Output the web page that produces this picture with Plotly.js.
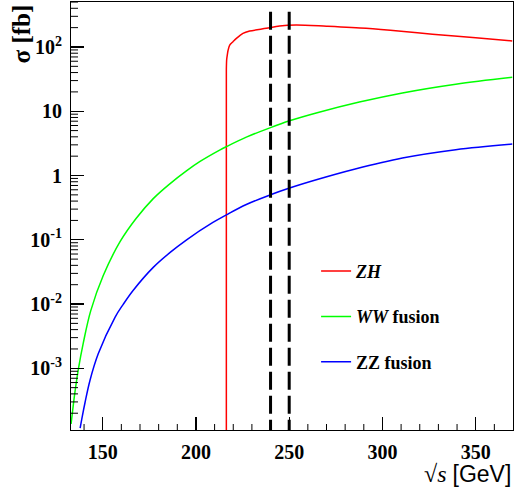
<!DOCTYPE html>
<html>
<head>
<meta charset="utf-8">
<script src="https://cdn.plot.ly/plotly-3.0.1.min.js"></script>
<style>html,body{margin:0;padding:0;background:#fff;}#chart{width:514px;height:489px;}</style>
</head>
<body>
<div id="chart"></div>
<script>
// ---- data ----
const zhEnergy = [216.3, 216.3, 216.5, 216.9, 217.2, 218.1, 219.9, 221.7, 225.2, 228.8, 237.7, 244.8, 253.7, 270, 291.2, 310, 326.8, 350, 369.6];
const zhXsec   = [1e-4, 45, 65, 78, 88, 107, 121, 136, 163, 177, 195, 212, 220, 210, 195, 176, 158, 139, 124];

const wwEnergy = [133.05, 134.0, 135.2, 137.0, 139.6, 143.6, 150.3, 159.3, 168.0, 177.1, 186.0, 194.9, 202.0, 212.7, 216.3, 227.0, 240.0, 250.2, 265.0, 287.6, 310.7, 339.3, 369.6];
const wwXsec   = [1.36e-4, 2.35e-4, 4.44e-4, 9.9e-4, 2.49e-3, 7.9e-3, 0.0278, 0.0933, 0.216, 0.437, 0.743, 1.18, 1.64, 2.48, 2.81, 3.95, 5.57, 7.10, 9.48, 13.9, 19.3, 26.4, 33.8];

const zzEnergy = [137.9, 139.0, 140.5, 143.2, 147.6, 156.6, 161.0, 166.4, 177.1, 186.0, 195.0, 209.1, 216.3, 227.0, 240.0, 250.2, 265.0, 284.9, 310.7, 339.3, 369.6];
const zzXsec   = [1.17e-4, 1.75e-4, 2.91e-4, 6.52e-4, 1.68e-3, 6.22e-3, 9.9e-3, 0.0164, 0.0372, 0.0630, 0.100, 0.186, 0.244, 0.354, 0.502, 0.638, 0.865, 1.25, 1.87, 2.52, 3.08];

const seriesNames = ['<b><i>ZH</i></b>', '<b><i>WW</i> fusion</b>', '<b>ZZ fusion</b>'];
const windowEnergies = [240, 250];

const yTickVals = [1e-3, 1e-2, 1e-1, 1, 10, 100];
const yTickText = ['10<sup>-3</sup>', '10<sup>-2</sup>', '10<sup>-1</sup>', '1', '10', '10<sup>2</sup>'];
const xTickVals = [150, 200, 250, 300, 350];
const xTickText = ['150', '200', '250', '300', '350'];

const serif = 'Liberation Serif, Times New Roman, serif';
const xRange = [133, 370];
const yRange = [-3.96, 2.70];

// ---- minor tick marks (axis decoration) ----
const plotW = 514 - 71 - 1, plotH = 489 - 2 - 59;
const xPerPx = (xRange[1] - xRange[0]) / plotW;
const logPerPx = (yRange[1] - yRange[0]) / plotH;
const yMinor = [];
for (let d = -4; d <= 2; d++) for (let k = 2; k <= 9; k++) {
  const v = k * Math.pow(10, d);
  const lv = Math.log10(v);
  if (lv > yRange[0] && lv < yRange[1]) yMinor.push(v);
}
const xMinor = [];
for (let v = 140; v < xRange[1]; v += 10) if (v % 50 !== 0) xMinor.push(v);

const yTickX = [], yTickY = [];
yMinor.forEach(v => { yTickX.push(xRange[0], xRange[0] + 7 * xPerPx, null); yTickY.push(v, v, null); });
const xTickX = [], xTickY = [];
const yBottom = Math.pow(10, yRange[0]), yTickTop = Math.pow(10, yRange[0] + 6 * logPerPx);
xMinor.forEach(v => { xTickX.push(v, v, null); xTickY.push(yBottom, yTickTop, null); });

const traces = [
  {x: zhEnergy, y: zhXsec, name: seriesNames[0], legendgroup: 'a', mode: 'lines', line: {color: '#ff0000', width: 1.5, shape: 'spline', smoothing: 0.8}},
  {x: wwEnergy, y: wwXsec, name: seriesNames[1], legendgroup: 'b', mode: 'lines', line: {color: '#00ff00', width: 1.5, shape: 'spline', smoothing: 1}},
  {x: zzEnergy, y: zzXsec, name: seriesNames[2], legendgroup: 'c', mode: 'lines', line: {color: '#0000ff', width: 1.5, shape: 'spline', smoothing: 1}},
  {x: yTickX, y: yTickY, mode: 'lines', showlegend: false, hoverinfo: 'skip', connectgaps: false, line: {color: '#000', width: 1}},
  {x: xTickX, y: xTickY, mode: 'lines', showlegend: false, hoverinfo: 'skip', connectgaps: false, line: {color: '#000', width: 1}}
];

const shapes = windowEnergies.map(e => ({
  type: 'line', xref: 'x', yref: 'paper', x0: e, x1: e, y0: 0.977, y1: 0,
  line: {color: '#000', width: 3, dash: '18px,6px'}
}));

const layout = {
  width: 514, height: 489,
  margin: {l: 71, r: 1, t: 2, b: 59},
  paper_bgcolor: '#fff', plot_bgcolor: '#fff',
  showlegend: true,
  legend: {
    x: 0.5545, y: 0.414, xanchor: 'left', yanchor: 'top',
    font: {family: serif, size: 18, color: '#000'},
    tracegroupgap: 19, bgcolor: 'rgba(0,0,0,0)'
  },
  xaxis: {
    range: xRange, showgrid: false, zeroline: false,
    showline: true, linecolor: '#000', linewidth: 1, mirror: true,
    ticks: 'inside', ticklen: 13, tickcolor: '#000', tickwidth: 1.2,
    tickmode: 'array', tickvals: xTickVals, ticktext: xTickText,
    ticklabelstandoff: 4,
    tickfont: {family: serif, size: 20, color: '#000', weight: 'bold'}
  },
  yaxis: {
    type: 'log', range: yRange, showgrid: false, zeroline: false,
    showline: true, linecolor: '#000', linewidth: 1, mirror: true,
    ticks: 'inside', ticklen: 13, tickcolor: '#000', tickwidth: 1.2,
    tickmode: 'array', tickvals: yTickVals, ticktext: yTickText,
    ticklabelstandoff: 4,
    tickfont: {family: serif, size: 20, color: '#000', weight: 'bold'}
  },
  shapes: shapes,
  annotations: [
    {xref: 'paper', yref: 'paper', x: -0.111, y: 1.0, xanchor: 'center', yanchor: 'top',
     textangle: -90, showarrow: false, text: '<b>σ [fb]</b>',
     font: {family: serif, size: 25, color: '#000'}},
    {xref: 'paper', yref: 'paper', x: 1.0, y: -0.102, xanchor: 'right', yanchor: 'middle',
     showarrow: false,
     text: '√<i>s</i> <span style="font-family:Liberation Sans, Arial, sans-serif;font-size:23px">[GeV]</span>',
     font: {family: serif, size: 24, color: '#000'}}
  ]
};

Plotly.newPlot('chart', traces, layout, {displayModeBar: false, staticPlot: true});
</script>
</body>
</html>
